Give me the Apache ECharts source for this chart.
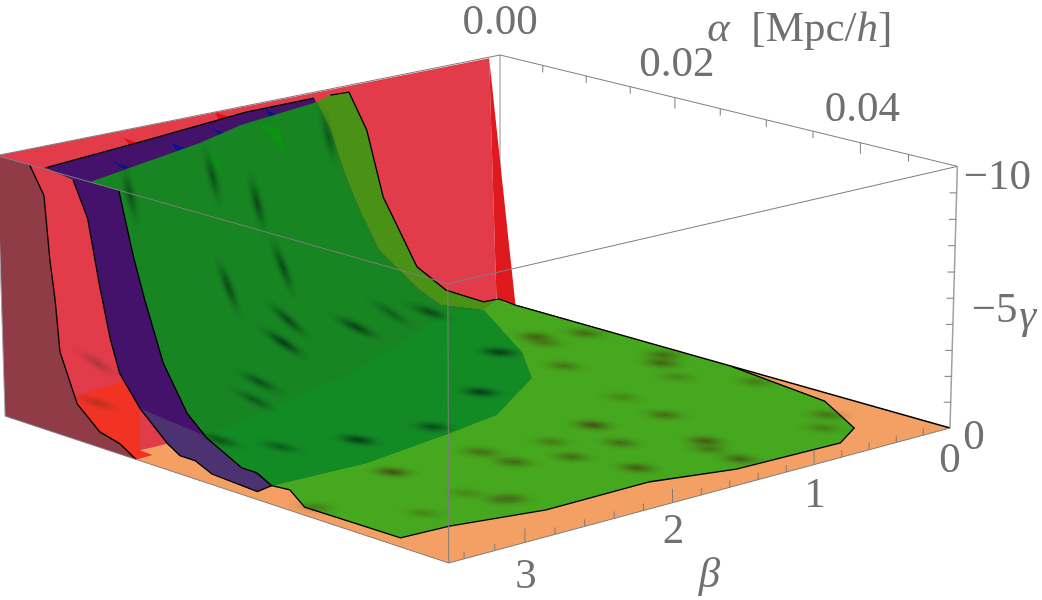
<!DOCTYPE html>
<html><head><meta charset="utf-8">
<style>html,body{margin:0;background:#fff}#c{width:1042px;height:600px}</style>
<script src="https://cdn.jsdelivr.net/npm/echarts@6/dist/echarts.min.js"></script></head>
<body><div id="c"></div>
<script>
// Axis ranges and ticks of the (alpha, beta, gamma) box.
const ALPHA_MAX=0.05,BETA_MAX=3.5,GAMMA_MIN=-10;
const alphaTicks=[0,.005,.01,.015,.02,.025,.03,.035,.04,.045];
const alphaLabelled=[[0,'0.00'],[.02,'0.02'],[.04,'0.04']];
const betaTicks=[.2,.4,.6,.8,1,1.2,1.4,1.6,1.8,2,2.2,2.4,2.6,2.8,3,3.2,3.4];
const betaLabelled=[[0,'0'],[1,'1'],[2,'2'],[3,'3']];
const gammaTicks=[-1,-2,-3,-4,-5,-6,-7,-8,-9];
const gammaLabelled=[[0,'0'],[-5,'\u22125'],[-10,'\u221210']];

// Region boundaries as [alpha, beta, gamma].
const redEdge=[[.0039,3.5,-10],[.0055,3.5,-9],[.006,3.5,-6.6],[.0065,3.5,-5.1],[.0069,3.5,-3.2],[.0088,3.5,-1.4],[.0114,3.5,-.6],[.0137,3.5,-.4],[.0156,3.5,0]];
const redFoot=[[.0155,3.39,0],[.0139,3.38,0],[.014,3.2,0],[.0115,2.16,0],[.0005,.1,0]];
const redBack=[[.001,.09,-.3],[.0003,.1,-10]];
const redRim=[[.002,.01,0]];
const purpleEdge=[[.009,3.5,-9.9],[.0106,3.5,-8.6],[.0118,3.5,-6.2],[.0129,3.5,-4.3],[.0139,3.5,-3.1],[.0162,3.5,-2],[.0193,3.5,-1],[.0207,3.5,-.7],[.0224,3.5,-.7],[.0243,3.5,-.4],[.0294,3.5,-.3],[.031,3.5,-.7]];
const purpleTop=[[.0054,3.48,-10],[.0038,2.77,-10],[.0016,1.92,-10],[.0015,1.44,-10]];
const purpleFoot=[[.0014,.21,0],[.0128,.65,0],[.0188,.96,0],[.0246,1.58,0],[.0259,1.99,0],[.0277,2.67,0]];
const greenTop=[[.011,3.5,-10],[.007,2.55,-10],[.0046,2.13,-10],[.0027,1.49,-10],[.0016,1.33,-10],[.0018,1.21,-10]];
const greenEdge=[[.0143,3.5,-10],[.0158,3.5,-7.7],[.017,3.5,-6.2],[.019,3.5,-4],[.0216,3.5,-2.4],[.0238,3.5,-1.7],[.0277,3.5,-1],[.0294,3.5,-1]];
const greenFlank=[[.0027,1.14,-8.5],[.0044,1.13,-6],[.0049,.92,-3],[.0004,.43,-1],[.0001,.13,-.1],[.0008,.06,-.2]];
const greenInner=[[.0007,1.28,-8.5],[.0001,1.14,-6.5],[.0003,1.05,-5],[.0019,1.01,-3.5],[.0018,.71,-1.5],[.0007,.49,-.5]];
const greenFloor=[[.001,.02,0],[.0025,0,0],[.0269,.01,0],[.0385,.12,0],[.0452,.37,0],[.0473,.62,0],[.047,1.35,0],[.0451,1.83,0],[.0452,2.55,0],[.0435,3.09,0],[.0433,3.4,0],[.0331,3.41,0],[.0291,3.27,0]];
const greenSeam=[[.0181,3.13,-.8],[.0137,2.36,-.5],[.0105,1.72,-.4],[.0057,1.05,-.3],[.0013,.45,-.3]];
const redSeam=[[.0088,3.5,-1.7],[.0041,2.94,-1]];
const purpleSeam=[[.015,3.02,-.2]];

// Small spikes along the top of the regions (three corners each).
const redSpikes=[[[.0019,2.77,-10],[.0039,2.79,-10],[.0049,2.88,-10]],[[0,2.04,-10],[.002,2.06,-10],[.0028,2.17,-10]]];
const blueSpikes=[[[.0073,3.14,-10],[.0094,3.15,-10],[.0095,3.2,-10]],[[.0055,2.66,-10],[.0078,2.68,-10],[.0079,2.75,-10]],[[.0039,2.29,-10],[.0061,2.32,-10],[.0063,2.37,-10]],[[.0018,1.8,-10],[.0043,1.85,-10],[.0044,1.91,-10]]];
const greenSpikes=[[[.0023,1.87,-9.5],[.004,1.84,-9.5],[.0052,1.85,-8.5]],[[.0078,2.84,-9.5],[.0083,2.7,-8.5],[.0078,2.78,-9.2]],[[.0071,2.51,-9.5],[.0081,2.5,-9.5],[.0069,2.39,-8.5]]];

// Dark dips in the surfaces: [alpha, beta, gamma, depth].
const floorDips=[[.0307,2.68,0,1],[.0102,.38,0,.8],[.012,.13,0,.7],[.012,.43,0,.5],[.0208,.12,0,.7],[.0224,.24,0,.8],[.0179,.67,0,.6],[.0261,.37,0,.4],[.0311,.13,0,.5],[.0413,.3,0,.6],[.0436,.49,0,.5],[.0315,1.34,0,1],[.0331,.93,0,.7],[.0274,.86,0,.4],[.0402,1.11,0,.9],[.0419,1.2,0,.6],[.0453,1.21,0,.8],[.0363,1.46,0,.7],[.0366,1.82,0,.7],[.0419,1.71,0,.9],[.0348,2.09,0,.5],[.0327,1.71,0,.5],[.0314,2.09,0,.4],[.0414,2.54,0,.6],[.031,2.12,0,.4],[.0412,2.61,0,.5],[.0399,3.04,0,.4],[.0383,2.65,0,.4],[.0336,3.37,0,.5],[.0345,2.12,0,.4]];
const wallDips=[[.0116,.74,0,1],[.0191,1.35,0,1],[.0238,1.98,0,.8],[.0237,2.49,-.2,1],[.0228,2.96,-.5,.6],[.0201,3.2,-.8,.7],[.0139,2.57,-1.5,.7],[.0174,2.81,-1.5,.6],[.0094,2.14,-2,1],[.0074,1.99,-2.5,.8],[.0069,1.48,-1.5,.9],[.0046,.81,-1,.8],[.0083,1.32,-2,.5],[.0085,2.46,-4.5,.8],[.0067,1.98,-4.5,.8],[.0055,2.08,-7,.8],[.0028,1.42,-8.6,.6],[.0095,3.16,-9,.7],[.0093,2.6,-9,.7],[.0044,3.12,-2,.3],[.0074,3.29,-1,.3]];

// Perspective camera for the box: floor and back-edge corners in the view plane.
const O=[500,300],R=[950,428],L=[5,416],T=[500,55],Du=.93,Dv=.935,Dw=.985;
function project(a,b,g){const u=a/ALPHA_MAX,v=b/BETA_MAX,w=g/GAMMA_MIN;
 const D=1+u*(Du-1)+v*(Dv-1)+w*(Dw-1);
 return [0,1].map(i=>(O[i]+u*(Du*R[i]-O[i])+v*(Dv*L[i]-O[i])+w*(Dw*T[i]-O[i]))/D);}

const rev=a=>a.slice().reverse();
const GREY='#7d7d7d',SERIF='"Liberation Serif","Times New Roman",serif',TEXT='#707070',FONT_SIZE=43;
const chart=echarts.init(document.getElementById('c'),null,{renderer:'canvas'});

function surface(api,pts,fill){return {type:'polygon',shape:{points:pts.map(p=>api.coord(project(p[0],p[1],p[2])))},style:{fill}};}
function edge(api,pts,stroke,lineWidth){return {type:'polyline',shape:{points:pts.map(p=>api.coord(project(p[0],p[1],p[2])))},style:{stroke,lineWidth,fill:'none'}};}
function tick(api,p,dx,dy){const q=api.coord(project(p[0],p[1],p[2]));return {type:'line',shape:{x1:q[0],y1:q[1],x2:q[0]+dx,y2:q[1]+dy},style:{stroke:GREY,lineWidth:1}};}
// A dip is a soft blurred ellipse: flat on the floor, turning along the fall line up the wall.
function dip(api,d,rgb,k){const q=api.coord(project(d[0],d[1],d[2]));
 const turn=(4+72*Math.min(1,-d[2]/5))*Math.PI/180;
 const rx=30+Math.min(8,-d[2]*2),ry=8;
 return {type:'circle',x:q[0],y:q[1],scaleX:rx/10,scaleY:ry/10,rotation:-turn,shape:{cx:0,cy:0,r:10},
  style:{fill:{type:'radial',x:.5,y:.5,r:.5,colorStops:[{offset:0,color:`rgba(${rgb},${k*d[3]})`},{offset:.3,color:`rgba(${rgb},${k*d[3]*.6})`},{offset:.65,color:`rgba(${rgb},${k*d[3]*.15})`},{offset:1,color:`rgba(${rgb},0)`}]}}};}
function label(api,p,text,dx,dy){const q=api.coord(project(p[0],p[1],p[2]));
 return {type:'text',style:{x:q[0]+dx,y:q[1]+dy,text,align:'center',verticalAlign:'middle',font:`${FONT_SIZE}px ${SERIF}`,fill:TEXT}};}
function symbol(api,p,text,dx,dy){const q=api.coord(project(p[0],p[1],p[2]));
 return {type:'text',style:{x:q[0]+dx,y:q[1]+dy,text,align:'center',verticalAlign:'middle',font:`italic ${FONT_SIZE}px ${SERIF}`,fill:TEXT}};}
function layer(build){return {type:'custom',coordinateSystem:'cartesian2d',silent:true,clip:false,data:[[0]],
 renderItem:(p,api)=>({type:'group',children:build(api)})};}

const corner={back:[0,0,-10],right:[.05,0,-10],left:[0,3.5,-10],front:[.05,3.5,-10],
 backLow:[0,0,0],rightLow:[.05,0,0],leftLow:[0,3.5,0],frontLow:[.05,3.5,0]};

const series=[
 // Rear of the box, behind every region.
 layer(api=>[edge(api,[corner.back,corner.backLow],'#b5b5b5',1.5),edge(api,[corner.back,corner.right],GREY,1),edge(api,[corner.right,corner.rightLow],'#a0a0a0',1.5)]),
 // Floor and the red region.
 layer(api=>[
  surface(api,[corner.backLow,corner.rightLow,corner.frontLow,corner.leftLow],'#f49f63'),
  surface(api,[corner.left,...redEdge,corner.leftLow],'#903c46'),
  surface(api,[corner.left,...rev(redBack),...rev(redFoot),...rev(redEdge)],'#e23b49'),
  surface(api,[redBack[1],redRim[0],redBack[0]],'#df1a1e'),
  surface(api,[...redSeam,purpleEdge[4],purpleEdge[5],redFoot[1],redFoot[0],...rev(redEdge.slice(5))],'#f23324'),
  ...redSpikes.map(s=>surface(api,s,'#e81010'))]),
 // Purple region.
 layer(api=>[
  surface(api,[...purpleTop,...greenInner,...purpleFoot,...rev(purpleEdge)],'#45126b'),
  surface(api,[purpleSeam[0],purpleEdge[11],...rev(purpleEdge.slice(5,11))],'#4d3272'),
  ...blueSpikes.map(s=>surface(api,s,'#0a128c'))]),
 // Green region: floor, part over red, part over purple.
 layer(api=>[
  surface(api,[greenFlank[5],...greenFloor,purpleEdge[11],...rev(purpleFoot)],'#46a81e'),
  surface(api,[greenTop[3],greenTop[4],greenTop[5],...greenFlank,purpleFoot[0],...rev(greenInner)],'#4a9216'),
  surface(api,[...greenTop.slice(0,4),...greenInner,...purpleFoot,purpleEdge[11],...rev(greenEdge)],'#178522'),
  surface(api,[...greenSeam,...purpleFoot,purpleEdge[11],greenEdge[7],greenEdge[6]],'#138b25'),
  ...greenSpikes.map(s=>surface(api,s,'#0a9412'))]),
 // Dark dips.
 layer(api=>[...wallDips.map(d=>dip(api,d,'0,40,18',.8)),...floorDips.map(d=>dip(api,d,'65,50,15',.75))]),
 // Region outlines.
 layer(api=>[
  edge(api,redEdge,'#000',1.3),edge(api,purpleEdge,'#000',1.3),edge(api,purpleTop,'#000',1.3),
  edge(api,[...greenEdge,purpleEdge[11]],'#000',1.3),
  edge(api,[greenTop[4],greenTop[5],...greenFlank,redRim[0],corner.rightLow],'#000',1.3),
  edge(api,[...greenFloor.slice(2),purpleEdge[11]],'#000',1.3)]),
 // Front of the box, ticks and labels.
 layer(api=>[
  edge(api,[corner.left,corner.back],GREY,1),edge(api,[corner.left,corner.front],GREY,1),edge(api,[corner.front,corner.right],GREY,1),
  edge(api,[corner.front,corner.frontLow],GREY,1),edge(api,[corner.left,corner.leftLow],'#a8a8a8',1),
  edge(api,[corner.leftLow,corner.frontLow],GREY,1),edge(api,[corner.frontLow,corner.rightLow],GREY,1),
  ...alphaTicks.slice(1).map(a=>tick(api,[a,0,-10],0,Math.round(a*1000)%20===0?11:7)),
  ...betaTicks.map(b=>tick(api,[.05,b,0],0,Math.round(b*10)%10===0?-14:-7)),
  ...gammaTicks.map(g=>tick(api,[.05,0,g],-7,0)),
  ...alphaLabelled.map(([a,t])=>label(api,[a,0,-10],t,a?2:0,a?-33:-32)),
  ...betaLabelled.map(([b,t])=>label(api,[.05,b,0],t,b?1:0,b===3?34:b===2?29:b===1?31:33)),
  ...gammaLabelled.map(([g,t])=>label(api,[.05,0,g],t,g===-10?40:g?41:24,g===-10?11:g?12:10)),
  (()=>{const q=api.coord(project(.025,0,-10));return {type:'text',style:{x:q[0]-13,y:q[1]-79,text:'{i|\u03b1}{n|  [Mpc/}{i|h}{n|]}',align:'left',verticalAlign:'middle',
    rich:{i:{fontStyle:'italic',fontFamily:SERIF,fontSize:FONT_SIZE,fill:TEXT},n:{fontFamily:SERIF,fontSize:FONT_SIZE,fill:TEXT}}}};})(),
  symbol(api,[.05,2,0],'\u03b2',37,73),
  symbol(api,[.05,0,-5],'\u03b3',74,18)
 ])
];
chart.setOption({animation:false,
 grid:{left:0,right:0,top:0,bottom:0},
 xAxis:{type:'value',min:0,max:1042,show:false},
 yAxis:{type:'value',min:0,max:600,inverse:true,show:false},
 series});
</script></body></html>
